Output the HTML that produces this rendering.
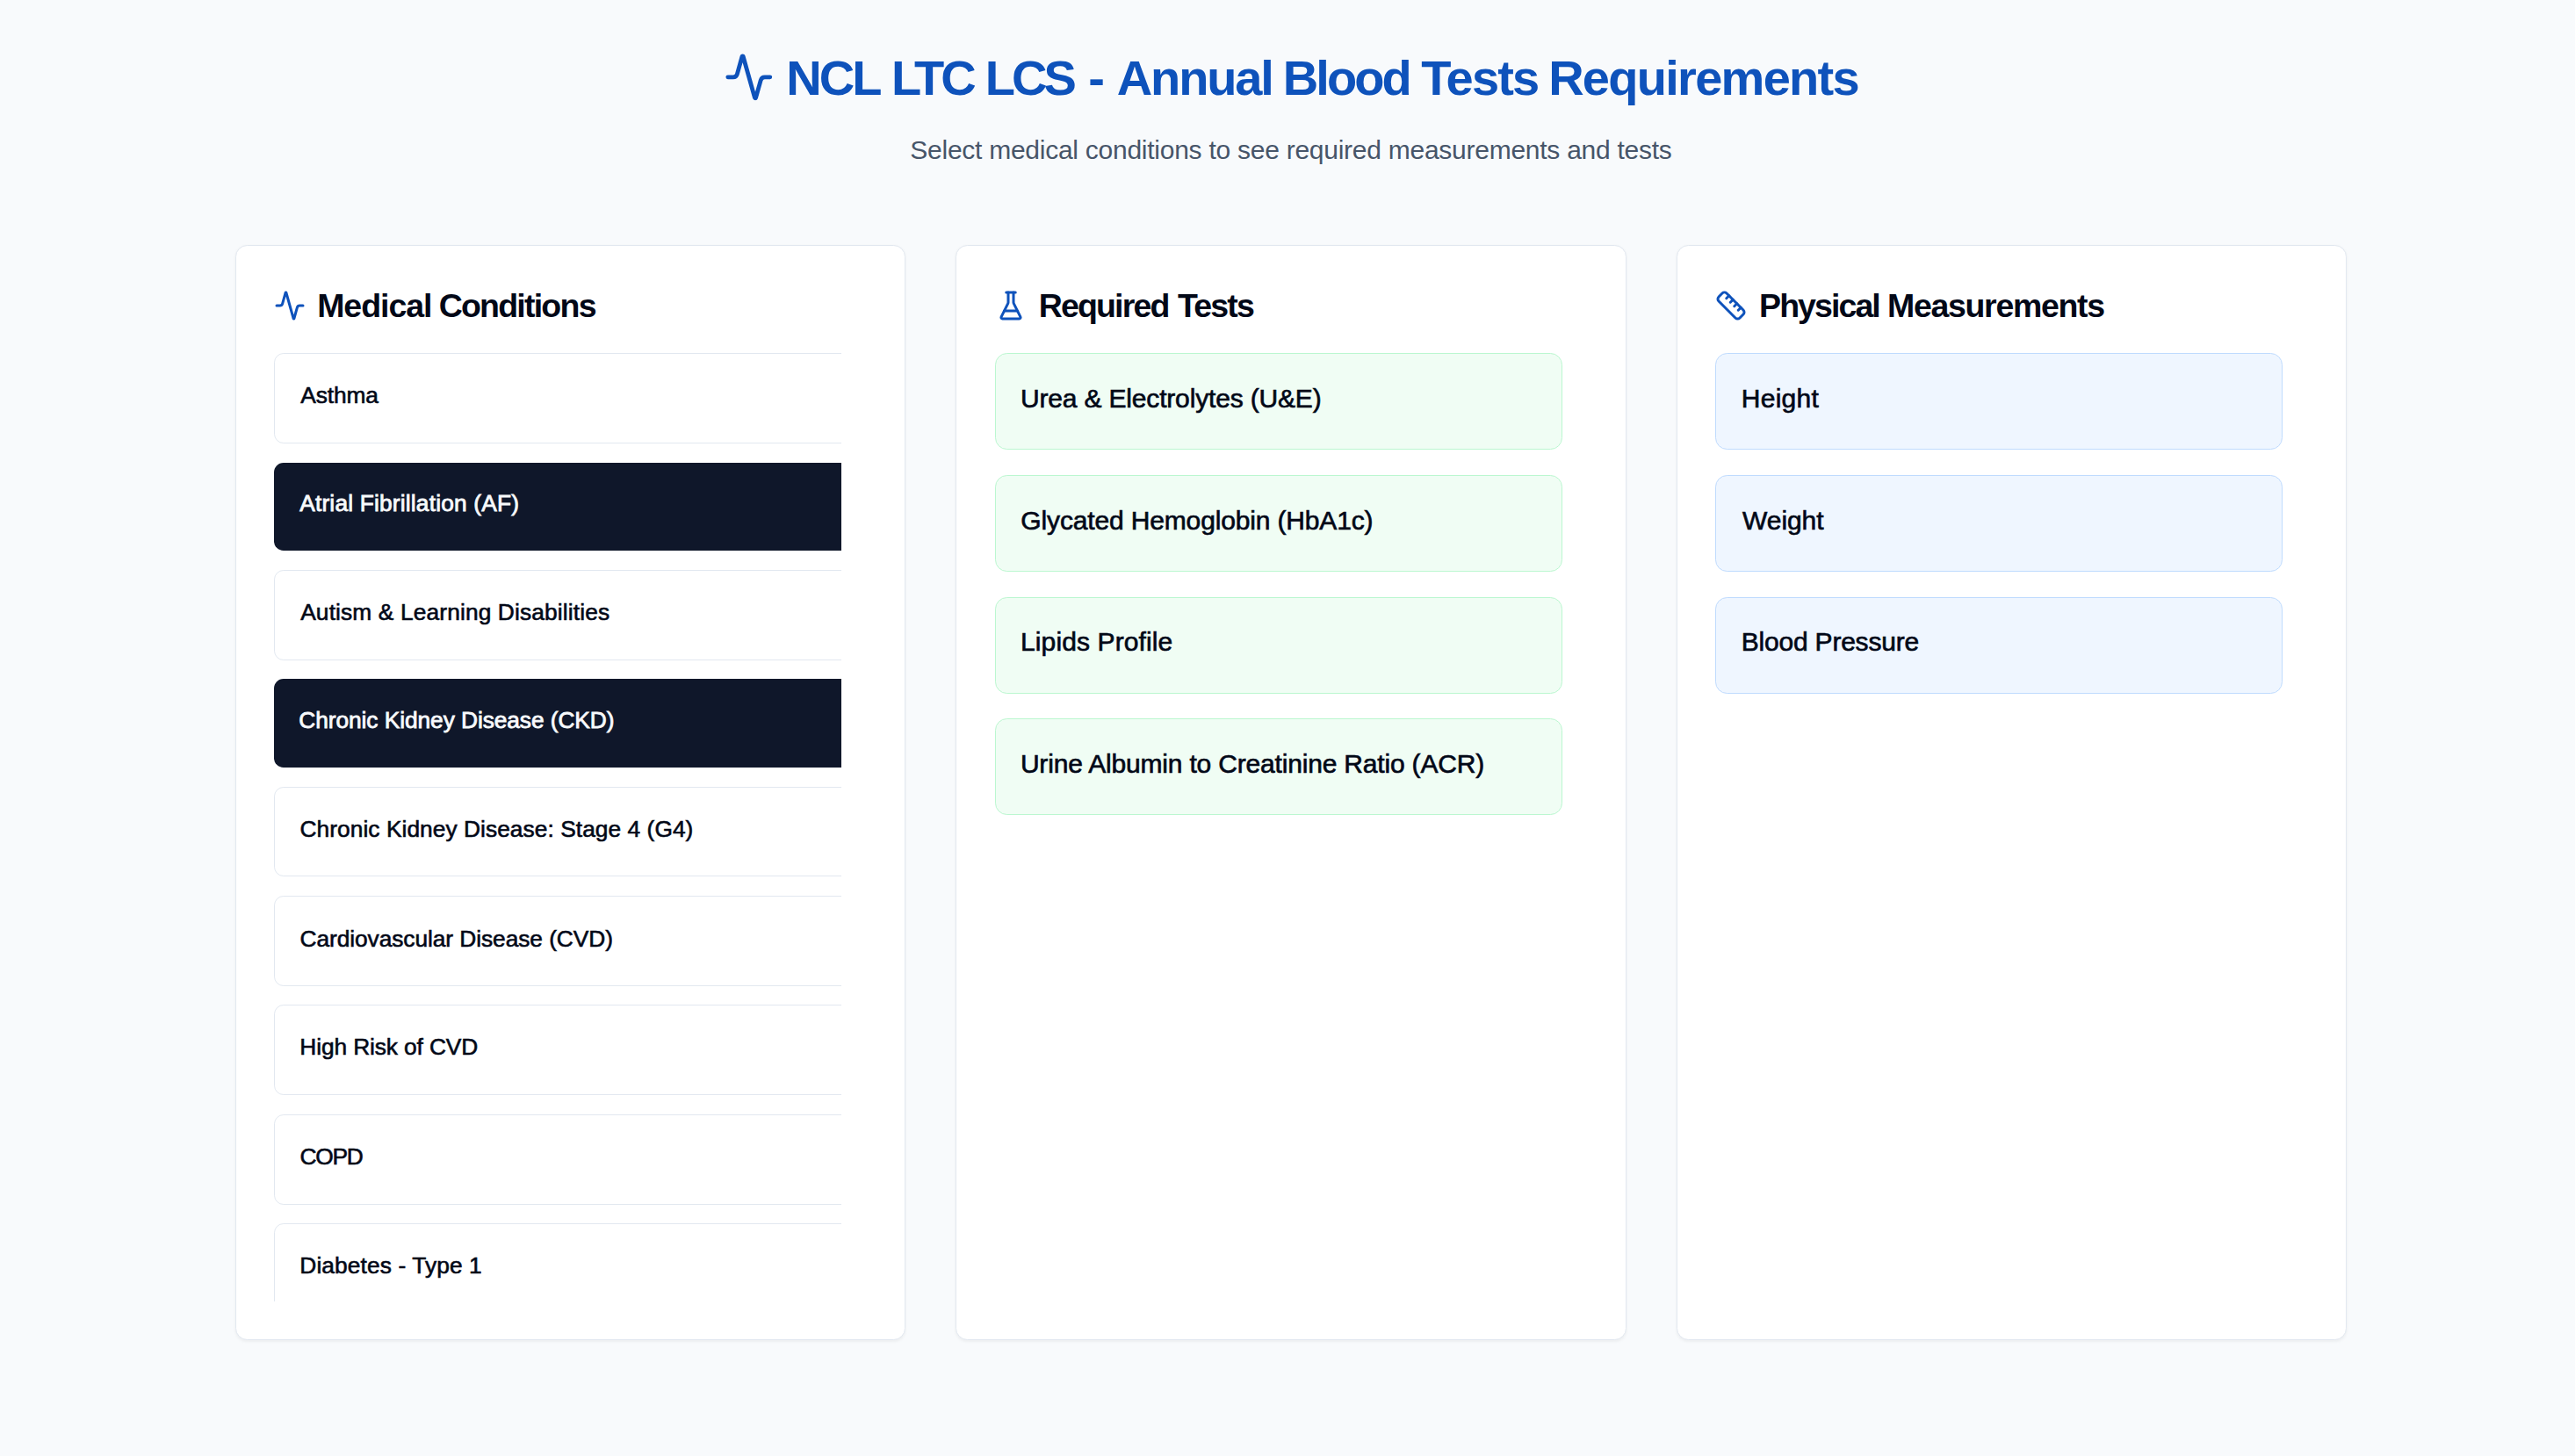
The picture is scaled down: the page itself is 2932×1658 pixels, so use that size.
<!DOCTYPE html>
<html lang="en"><head><meta charset="utf-8"><title>NCL LTC LCS - Annual Blood Tests Requirements</title>
<style>
html,body{margin:0;padding:0}
body{width:2932px;height:1658px;overflow:hidden;position:relative;background:#F8FAFC;color:#020817;font-family:"Liberation Sans",Arial,sans-serif}
h1,h2,p,ul,li{margin:0;padding:0;font-size:inherit;font-weight:inherit;list-style:none}
.tx{position:absolute;white-space:nowrap;line-height:1;display:block}
.ic{position:absolute;display:block}
h1 .tx{font-size:56px;font-weight:bold;color:#0E52BB}
.sub{font-size:30px;color:#475569}
h2 .tx{font-size:37.5px;font-weight:bold;color:#020817}
.card{position:absolute;box-sizing:border-box;top:278.6px;width:763.2px;height:1247.6px;background:#fff;border:1px solid #E2E8F0;border-radius:13.5px;box-shadow:0 1.8px 3.6px 0 rgba(0,0,0,.05)}
.scroll{position:absolute;left:43.4px;top:122.4px;width:646px;height:1080px;overflow:hidden}
.btn{position:absolute;box-sizing:border-box;left:0;width:700px;margin:0;padding:0;border:0;border-radius:10.8px;font:inherit;text-align:left;display:block;-webkit-appearance:none;appearance:none;cursor:pointer}
.btn .tx{font-size:26.3px}
.btn.o{background:#fff;border:1px solid #E2E8F0;color:#020817}
.btn.o .tx{-webkit-text-stroke:.6px #020817}
.btn.d{background:#0F172A;color:#F8FAFC}
.btn.d .tx{-webkit-text-stroke:.8px #F8FAFC}
.it{position:absolute;box-sizing:border-box;width:646px;height:110px;border-radius:13.5px;border:1px solid}
.it .tx{font-size:30px;color:#020817;-webkit-text-stroke:.65px #020817}
.it.g{background:#F0FDF4;border-color:#BBF7D0}
.it.b{background:#EFF6FF;border-color:#BFDBFE}
</style></head><body>
<header>
<svg class="ic" style="left:824.2px;top:58.6px" width="57.6" height="57.6" viewBox="0 0 24 24" fill="none" stroke="#0E52BB" stroke-width="2" stroke-linecap="round" stroke-linejoin="round" aria-hidden="true"><path d="M22 12h-2.48a2 2 0 0 0-1.93 1.46l-2.35 8.36a.25.25 0 0 1-.48 0L9.24 2.18a.25.25 0 0 0-.48 0l-2.35 8.36A2 2 0 0 1 4.49 12H2"/></svg>
<h1><span class="tx" style="left:895.15px;top:61.1px;letter-spacing:-2.926px">NCL</span> <span class="tx" style="left:1015.05px;top:61.1px;letter-spacing:-4.062px">LTC</span> <span class="tx" style="left:1121.75px;top:61.1px;letter-spacing:-3.98px">LCS</span> <span class="tx" style="left:1239.35px;top:61.1px;letter-spacing:7.832px">-</span> <span class="tx" style="left:1271.72px;top:61.1px;letter-spacing:-2.118px">Annual</span> <span class="tx" style="left:1460.75px;top:61.1px;letter-spacing:-2.932px">Blood</span> <span class="tx" style="left:1618.37px;top:61.1px;letter-spacing:-1.812px">Tests</span> <span class="tx" style="left:1763.15px;top:61.1px;letter-spacing:-1.719px">Requirements</span></h1>
<p class="tx sub" style="left:1036.31px;top:155.5px;letter-spacing:-0.258px">Select medical conditions to see required measurements and tests</p>
</header>
<main>
<section class="card" style="left:267.6px">
<h2><svg class="ic" style="left:43.6px;top:50.3px" width="36" height="36" viewBox="0 0 24 24" fill="none" stroke="#0E52BB" stroke-width="2" stroke-linecap="round" stroke-linejoin="round" aria-hidden="true"><path d="M22 12h-2.48a2 2 0 0 0-1.93 1.46l-2.35 8.36a.25.25 0 0 1-.48 0L9.24 2.18a.25.25 0 0 0-.48 0l-2.35 8.36A2 2 0 0 1 4.49 12H2"/></svg><span class="tx" style="left:92.57px;top:50.65px;letter-spacing:-1.041px">Medical</span> <span class="tx" style="left:231.04px;top:50.65px;letter-spacing:-1.769px">Conditions</span></h2>
<div class="scroll" style="left:43.4px;top:122.4px">
<button type="button" class="btn o" aria-pressed="false" style="top:0px;height:103px"><span class="tx" style="left:29.21px;top:34.25px;letter-spacing:-0.078px">Asthma</span></button>
<button type="button" class="btn d" aria-pressed="true" style="top:125px;height:100px"><span class="tx" style="left:29.22px;top:33.35px;letter-spacing:0.186px">Atrial Fibrillation (AF)</span></button>
<button type="button" class="btn o" aria-pressed="false" style="top:247px;height:103px"><span class="tx" style="left:29.21px;top:34.15px;letter-spacing:0.138px">Autism &amp; Learning Disabilities</span></button>
<button type="button" class="btn d" aria-pressed="true" style="top:371px;height:101px"><span class="tx" style="left:28.31px;top:34.05px;letter-spacing:-0.064px">Chronic Kidney Disease (CKD)</span></button>
<button type="button" class="btn o" aria-pressed="false" style="top:494px;height:102px"><span class="tx" style="left:28.54px;top:33.55px;letter-spacing:0.059px">Chronic Kidney Disease: Stage 4 (G4)</span></button>
<button type="button" class="btn o" aria-pressed="false" style="top:618px;height:103px"><span class="tx" style="left:28.54px;top:34.65px;letter-spacing:-0.06px">Cardiovascular Disease (CVD)</span></button>
<button type="button" class="btn o" aria-pressed="false" style="top:742px;height:103px"><span class="tx" style="left:28.33px;top:34.15px;letter-spacing:-0.111px">High Risk of CVD</span></button>
<button type="button" class="btn o" aria-pressed="false" style="top:867px;height:103px"><span class="tx" style="left:28.54px;top:34.15px;letter-spacing:-1.263px">COPD</span></button>
<button type="button" class="btn o" aria-pressed="false" style="top:991px;height:103px"><span class="tx" style="left:28.33px;top:34.25px;letter-spacing:0.111px">Diabetes - Type 1</span></button>
</div>
</section>
<section class="card" style="left:1088.4px">
<h2><svg class="ic" style="left:43.8px;top:50.3px" width="36" height="36" viewBox="0 0 24 24" fill="none" stroke="#0E52BB" stroke-width="2" stroke-linecap="round" stroke-linejoin="round" aria-hidden="true"><path d="M10 2v7.527a2 2 0 0 1-.211.896L4.72 20.55a1 1 0 0 0 .9 1.45h12.76a1 1 0 0 0 .9-1.45l-5.069-10.127A2 2 0 0 1 14 9.527V2"/><path d="M8.5 2h7"/><path d="M7 16h10"/></svg><span class="tx" style="left:93.27px;top:50.65px;letter-spacing:-1.832px">Required</span> <span class="tx" style="left:251.56px;top:50.65px;letter-spacing:-1.828px">Tests</span></h2>
<ul>
<li class="it g" style="left:43.6px;top:122.4px"><span class="tx" style="left:27.91px;top:35.7px;letter-spacing:-0.166px">Urea &amp; Electrolytes (U&amp;E)</span></li>
<li class="it g" style="left:43.6px;top:261.4px"><span class="tx" style="left:28.36px;top:35.8px;letter-spacing:-0.151px">Glycated Hemoglobin (HbA1c)</span></li>
<li class="it g" style="left:43.6px;top:400.4px"><span class="tx" style="left:28.05px;top:34.8px;letter-spacing:0.112px">Lipids Profile</span></li>
<li class="it g" style="left:43.6px;top:538.4px"><span class="tx" style="left:27.91px;top:36px;letter-spacing:-0.182px">Urine Albumin to Creatinine Ratio (ACR)</span></li>
</ul>
</section>
<section class="card" style="left:1909.2px">
<h2><svg class="ic" style="left:42.8px;top:50.3px" width="36" height="36" viewBox="0 0 24 24" fill="none" stroke="#0E52BB" stroke-width="2" stroke-linecap="round" stroke-linejoin="round" aria-hidden="true"><path d="M21.3 15.3a2.4 2.4 0 0 1 0 3.4l-2.6 2.6a2.4 2.4 0 0 1-3.4 0L2.7 8.7a2.41 2.41 0 0 1 0-3.4l2.6-2.6a2.41 2.41 0 0 1 3.4 0Z"/><path d="m14.5 12.5 2-2"/><path d="m11.5 9.5 2-2"/><path d="m8.5 6.5 2-2"/><path d="m17.5 15.5 2-2"/></svg><span class="tx" style="left:92.87px;top:50.65px;letter-spacing:-1.921px">Physical</span> <span class="tx" style="left:238.87px;top:50.65px;letter-spacing:-1.327px">Measurements</span></h2>
<ul>
<li class="it b" style="left:42.8px;top:122.4px"><span class="tx" style="left:28.85px;top:35.6px;letter-spacing:0.25px">Height</span></li>
<li class="it b" style="left:42.8px;top:261.4px"><span class="tx" style="left:30.11px;top:35.7px;letter-spacing:-0.077px">Weight</span></li>
<li class="it b" style="left:42.8px;top:400.4px"><span class="tx" style="left:28.85px;top:34.9px;letter-spacing:-0.217px">Blood Pressure</span></li>
</ul>
</section>
</main>
</body></html>
